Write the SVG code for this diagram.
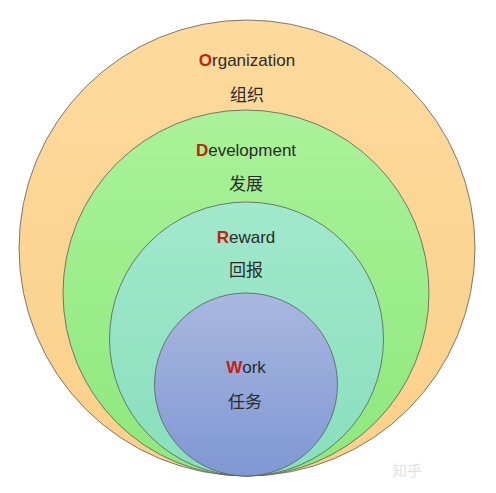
<svg xmlns="http://www.w3.org/2000/svg" width="496" height="493" viewBox="0 0 496 493">
<defs>
<linearGradient id="gO" x1="0" y1="0" x2="0" y2="1"><stop offset="0" stop-color="#FDDA9C"/><stop offset="1" stop-color="#FBD08A"/></linearGradient>
<linearGradient id="gD" x1="0" y1="0" x2="0" y2="1"><stop offset="0" stop-color="#AAF29A"/><stop offset="1" stop-color="#8EE87C"/></linearGradient>
<linearGradient id="gR" x1="0" y1="0" x2="0" y2="1"><stop offset="0" stop-color="#A2E8CC"/><stop offset="1" stop-color="#88DFBC"/></linearGradient>
<linearGradient id="gW" x1="0" y1="0" x2="0" y2="1"><stop offset="0" stop-color="#A9B8E0"/><stop offset="1" stop-color="#7F97D3"/></linearGradient>
<style>
.c{stroke:#5a5a5a;stroke-width:0.8}
.en{font-family:"Liberation Sans","Noto Sans",Arial,sans-serif;font-size:17px;fill:#2b2b2b;text-anchor:middle}
.cn{font-family:"Noto Sans CJK SC","Noto Sans",sans-serif;font-size:17px;fill:#2b2b2b;text-anchor:middle}
.r{fill:#C8200E;font-weight:bold}
.wm{font-family:"Noto Sans CJK SC",sans-serif;font-size:15px;fill:#e2e2e2}
</style>
</defs>
<rect width="496" height="493" fill="#ffffff"/>
<g id="organization">
<circle class="c" cx="247" cy="248" r="228" fill="url(#gO)"/>
<text class="en" x="247" y="66"><tspan class="r">O</tspan>rganization</text>
<text class="cn" x="247" y="101">组织</text>
</g>
<g id="development">
<circle class="c" cx="246" cy="293" r="183" fill="url(#gD)"/>
<text class="en" x="246" y="156"><tspan class="r">D</tspan>evelopment</text>
<text class="cn" x="246" y="190">发展</text>
</g>
<g id="reward">
<circle class="c" cx="246.5" cy="339" r="137" fill="url(#gR)"/>
<text class="en" x="246" y="243"><tspan class="r" fill="#D0202A">R</tspan>eward</text>
<text class="cn" x="246" y="276">回报</text>
</g>
<g id="work">
<circle class="c" cx="246" cy="384.5" r="91.5" fill="url(#gW)"/>
<text class="en" x="246" y="373"><tspan class="r" fill="#E0203A">W</tspan>ork</text>
<text class="cn" x="245" y="408">任务</text>
</g>
<g id="connectors"></g>
<text class="wm" x="392" y="476">知乎</text>
</svg>
